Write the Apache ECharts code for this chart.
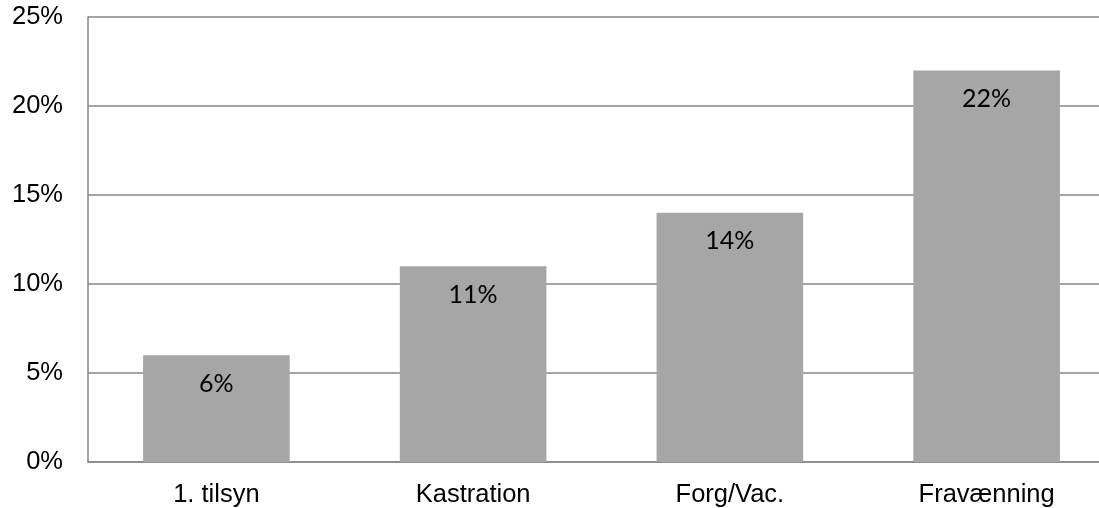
<!DOCTYPE html>
<html><head><meta charset="utf-8">
<script src="https://cdn.jsdelivr.net/npm/echarts@6/dist/echarts.min.js"></script>
<style>html,body{margin:0;padding:0;background:#fff}#c{width:1099px;height:508px}</style>
</head><body><div id="c"></div>
<script>
const categories = ['1. tilsyn', 'Kastration', 'Forg/Vac.', 'Fravænning'];
const values = [6, 11, 14, 22];
const yTicks = [0, 5, 10, 15, 20, 25];

const chart = echarts.init(document.getElementById('c'), null, {renderer: 'canvas'});
chart.setOption({
  animation: false,
  grid: {left: 88, top: 17, width: 1027, height: 445, containLabel: false, outerBoundsMode: 'none'},
  xAxis: {
    type: 'category', data: categories,
    axisLine: {show: true, lineStyle: {color: '#868686', width: 1.5}},
    axisTick: {show: false},
    axisLabel: {color: '#000', fontFamily: 'Liberation Sans, Arial', fontSize: 25.5, margin: 20}
  },
  yAxis: {
    type: 'value', min: yTicks[0], max: yTicks[yTicks.length - 1], interval: 5,
    axisLine: {show: true, lineStyle: {color: '#868686', width: 1.5}},
    axisTick: {show: false},
    splitLine: {show: true, lineStyle: {color: '#868686', width: 1.5}},
    axisLabel: {color: '#000', fontFamily: 'Liberation Sans, Arial', fontSize: 25.5, margin: 25, formatter: v => v + '%'}
  },
  series: [{
    type: 'bar', data: values, barWidth: '57.1%',
    itemStyle: {color: '#a6a6a6'},
    label: {show: true, position: 'insideTop', distance: 16, color: '#000',
      fontFamily: 'Lato, DejaVu Sans', fontSize: 25, formatter: p => p.value + '%'}
  }]
});
</script></body></html>
